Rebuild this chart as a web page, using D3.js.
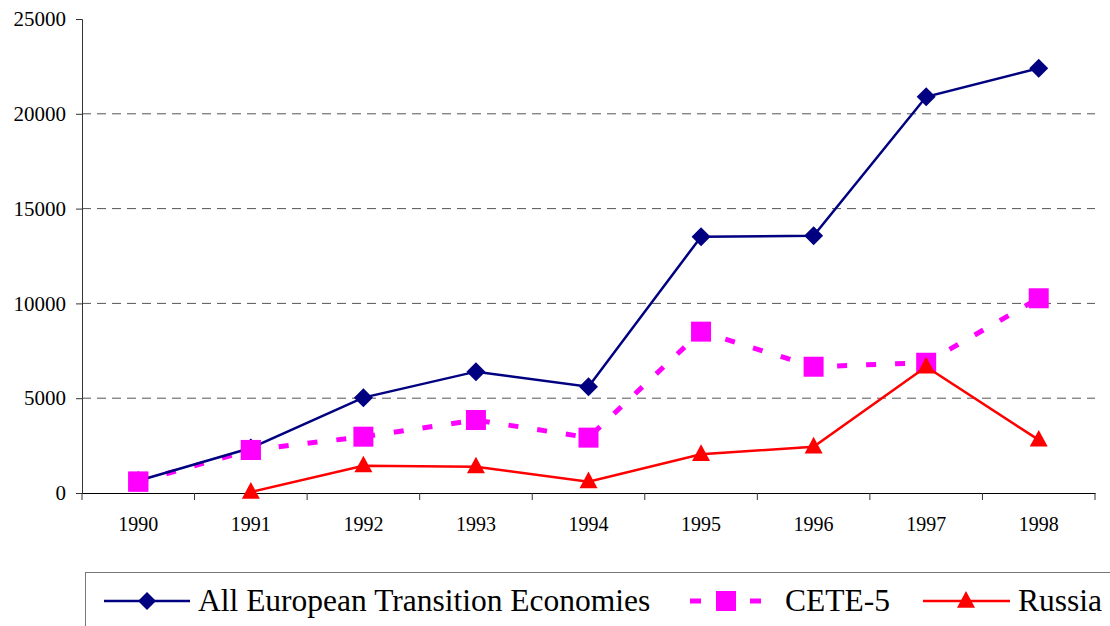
<!DOCTYPE html>
<html><head><meta charset="utf-8">
<script src="https://cdn.jsdelivr.net/npm/d3@7"></script>
<style>body{margin:0;background:#fff;} svg{display:block;} text{font-family:"Liberation Serif","Times New Roman",Tinos,"DejaVu Serif",serif;}</style>
</head><body>
<script>
const years = ["1990","1991","1992","1993","1994","1995","1996","1997","1998"];
const allEurope = [650, 2370, 5030, 6400, 5610, 13520, 13570, 20900, 22400];
const cete5 = [600, 2270, 2970, 3850, 2920, 8510, 6660, 6870, 10270];
const russia = [null, 50, 1440, 1390, 600, 2040, 2440, 6660, 2800];
const yTicks = [0, 5000, 10000, 15000, 20000, 25000];
const seriesNames = ["All European Transition Economies", "CETE-5", "Russia"];

const W = 1110, H = 626;
const svg = d3.select("body").append("svg").attr("width", W).attr("height", H);
const font = '"Liberation Serif","Times New Roman",Tinos,"DejaVu Serif",serif';

const x = d3.scaleBand().domain(years).range([82, 1095]);
const y = d3.scaleLinear().domain([0, 25000]).range([493, 19]);

// gridlines
svg.append("g").selectAll("line").data(yTicks.filter(d => d > 0 && d < 25000)).join("line")
  .attr("x1", 82).attr("x2", 1095).attr("y1", d => y(d)).attr("y2", d => y(d))
  .attr("stroke", "#555").attr("stroke-width", 1).attr("stroke-dasharray", "9,6");

// y axis
const ya = svg.append("g").attr("transform", "translate(82,0)")
  .call(d3.axisLeft(y).tickValues(yTicks).tickSize(6).tickPadding(10).tickFormat(d3.format("d")));
ya.attr("font-family", null);
ya.select(".domain").attr("stroke", "#333");
ya.selectAll(".tick line").attr("stroke", "#333");
ya.selectAll("text").style("font-family", font).style("font-size", "21px").attr("fill", "#000");

// x axis
const xa = svg.append("g").attr("transform", "translate(0,493)")
  .call(d3.axisBottom(x).tickSize(0).tickPadding(24));
xa.attr("font-family", null);
xa.select(".domain").attr("stroke", "#000").attr("stroke-width", 1.2);
xa.selectAll("text").style("font-family", font).style("font-size", "20px").attr("fill", "#000");
const bounds = years.map(d => x(d)).concat([x.range()[1]]);
xa.append("g").selectAll("line").data(bounds).join("line")
  .attr("x1", d => d).attr("x2", d => d).attr("y1", 0).attr("y2", 7)
  .attr("stroke", "#333");

const cx = d => x(d) + x.bandwidth() / 2;

function series(vals, color, width, dash) {
  const pts = years.map((yr, i) => ({ yr, v: vals[i] })).filter(p => p.v != null);
  const line = d3.line().x(p => cx(p.yr)).y(p => y(p.v));
  svg.append("path").datum(pts).attr("d", line).attr("fill", "none")
    .attr("stroke", color).attr("stroke-width", width)
    .attr("stroke-dasharray", dash || null);
  return pts;
}

const diamond = s => `M0,${-s}L${s},0L0,${s}L${-s},0Z`;
const square = s => `M${-s},${-s}H${s}V${s}H${-s}Z`;
const tri = s => `M0,${-s}L${s},${s*0.85}L${-s},${s*0.85}Z`;

// CETE-5
const cp = series(cete5, "#ff00ff", 5, "10,19");
svg.append("g").selectAll("path").data(cp).join("path")
  .attr("transform", p => `translate(${cx(p.yr)},${y(p.v)})`).attr("d", square(10)).attr("fill", "#ff00ff");

// All Europe
const ap = series(allEurope, "#000080", 2.5);
svg.append("g").selectAll("path").data(ap).join("path")
  .attr("transform", p => `translate(${cx(p.yr)},${y(p.v)})`).attr("d", diamond(9.5)).attr("fill", "#000080");

// CETE squares at 1990/1991 drawn over the blue line as in the reference
svg.append("g").selectAll("path").data(cp.slice(0, 2)).join("path")
  .attr("transform", p => `translate(${cx(p.yr)},${y(p.v)})`).attr("d", square(10)).attr("fill", "#ff00ff");

// Russia
const rp = series(russia, "#ff0000", 2.5);
svg.append("g").selectAll("path").data(rp).join("path")
  .attr("transform", p => `translate(${cx(p.yr)},${y(p.v) - 1})`).attr("d", tri(9)).attr("fill", "#ff0000");

// Legend
const lg = svg.append("g");
lg.append("rect").attr("x", 85.5).attr("y", 572.5).attr("width", 1040).attr("height", 70)
  .attr("fill", "#fff").attr("stroke", "#777").attr("stroke-width", 1);
const ly = 601;
function legText(xp, t) {
  lg.append("text").attr("x", xp).attr("y", ly + 10).text(t)
    .style("font-family", font).style("font-size", "31.5px").attr("fill", "#000");
}
lg.append("line").attr("x1", 104).attr("x2", 190).attr("y1", ly).attr("y2", ly).attr("stroke", "#000080").attr("stroke-width", 2.5);
lg.append("path").attr("transform", `translate(147,${ly})`).attr("d", diamond(9)).attr("fill", "#000080");
legText(198, seriesNames[0]);
lg.append("line").attr("x1", 690).attr("x2", 761).attr("y1", ly).attr("y2", ly).attr("stroke", "#ff00ff").attr("stroke-width", 5).attr("stroke-dasharray", "11,19");
lg.append("path").attr("transform", `translate(726,${ly})`).attr("d", square(10)).attr("fill", "#ff00ff");
legText(785, seriesNames[1]);
lg.append("line").attr("x1", 923).attr("x2", 1010).attr("y1", ly).attr("y2", ly).attr("stroke", "#ff0000").attr("stroke-width", 2.5);
lg.append("path").attr("transform", `translate(966,${ly - 1})`).attr("d", tri(9)).attr("fill", "#ff0000");
legText(1018, seriesNames[2]);
</script>
</body></html>
